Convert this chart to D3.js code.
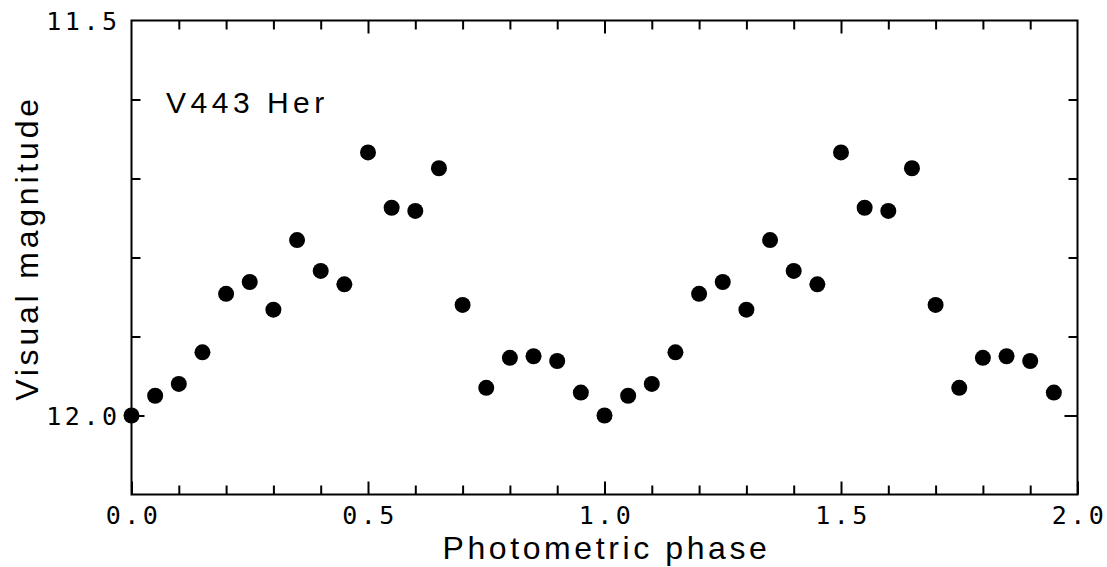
<!DOCTYPE html>
<html>
<head>
<meta charset="utf-8">
<script src="https://cdn.jsdelivr.net/npm/d3@7"></script>
<style>
  html, body { margin: 0; padding: 0; background: #fff; }
  svg { display: block; }
  .tick-label { font-family: "DejaVu Sans Mono", monospace; font-size: 25px; letter-spacing: 3.5px; fill: #000; }
  .title { font-family: "Liberation Sans", Arial, sans-serif; fill: #000; }
</style>
</head>
<body>
<svg id="chart" width="1107" height="567"></svg>
<script>
// Light curve of V443 Her folded on the photometric period, shown over two cycles
const phase = [
  0.00, 0.05, 0.10, 0.15, 0.20, 0.25, 0.30, 0.35, 0.40, 0.45,
  0.50, 0.55, 0.60, 0.65, 0.70, 0.75, 0.80, 0.85, 0.90, 0.95,
  1.00, 1.05, 1.10, 1.15, 1.20, 1.25, 1.30, 1.35, 1.40, 1.45,
  1.50, 1.55, 1.60, 1.65, 1.70, 1.75, 1.80, 1.85, 1.90, 1.95
];
const magnitude = [
  12.000, 11.975, 11.960, 11.920, 11.846, 11.831, 11.866, 11.778, 11.817, 11.834,
  11.667, 11.737, 11.741, 11.687, 11.860, 11.965, 11.927, 11.925, 11.931, 11.971,
  12.000, 11.975, 11.960, 11.920, 11.846, 11.831, 11.866, 11.778, 11.817, 11.834,
  11.667, 11.737, 11.741, 11.687, 11.860, 11.965, 11.927, 11.925, 11.931, 11.971
];
const xMajorTicks = [0.0, 0.5, 1.0, 1.5, 2.0];
const xMinorTicks = [0.1, 0.2, 0.3, 0.4, 0.6, 0.7, 0.8, 0.9, 1.1, 1.2, 1.3, 1.4, 1.6, 1.7, 1.8, 1.9];
const yMajorTicks = [11.5, 12.0];
const yMinorTicks = [11.6, 11.7, 11.8, 11.9];
const starName = "V443 Her";
const xTitle = "Photometric phase";
const yTitle = "Visual magnitude";

const svg = d3.select("#chart");
const plotLeft = 131.5, plotRight = 1077.5, plotTop = 20.5, plotBottom = 494.5;

const x = d3.scaleLinear().domain([0, 2]).range([plotLeft, plotRight]);
const y = d3.scaleLinear().domain([11.5, 12.1]).range([plotTop, plotBottom]);

const fmt = d3.format(".1f");
const minorLen = 9, majorLen = 13;

function styleAxis(g) {
  g.select(".domain").remove();
  g.selectAll(".tick line").attr("stroke", "#000").attr("stroke-width", 2);
}

// bottom axis: labelled majors plus minor ticks, all pointing into the frame
svg.append("g").attr("transform", `translate(0,${plotBottom})`)
  .call(d3.axisBottom(x).tickValues(xMinorTicks).tickSize(-minorLen).tickFormat(""))
  .call(styleAxis);
const bx = svg.append("g").attr("transform", `translate(0,${plotBottom})`)
  .call(d3.axisBottom(x).tickValues(xMajorTicks).tickSize(-majorLen).tickPadding(14).tickFormat(fmt))
  .call(styleAxis);
bx.selectAll(".tick text").attr("class", "tick-label").attr("font-size", null).attr("font-family", null)
  .attr("dy", null).attr("y", 29).attr("dx", 1.5);

// top axis: ticks only
svg.append("g").attr("transform", `translate(0,${plotTop})`)
  .call(d3.axisTop(x).tickValues(xMinorTicks).tickSize(-minorLen).tickFormat(""))
  .call(styleAxis);
svg.append("g").attr("transform", `translate(0,${plotTop})`)
  .call(d3.axisTop(x).tickValues(xMajorTicks.slice(1, -1)).tickSize(-majorLen).tickFormat(""))
  .call(styleAxis);

// left axis: 11.5 and 12.0 labelled
svg.append("g").attr("transform", `translate(${plotLeft},0)`)
  .call(d3.axisLeft(y).tickValues(yMinorTicks).tickSize(-minorLen).tickFormat(""))
  .call(styleAxis);
const ly = svg.append("g").attr("transform", `translate(${plotLeft},0)`)
  .call(d3.axisLeft(y).tickValues(yMajorTicks).tickSize(-majorLen).tickPadding(14).tickFormat(fmt))
  .call(styleAxis);
ly.selectAll(".tick line").filter(d => d === 11.5).remove();
ly.selectAll(".tick text").attr("class", "tick-label").attr("font-size", null).attr("font-family", null)
  .attr("x", -11).attr("dy", "0.36em");

// right axis: ticks only
svg.append("g").attr("transform", `translate(${plotRight},0)`)
  .call(d3.axisRight(y).tickValues(yMinorTicks).tickSize(-minorLen).tickFormat(""))
  .call(styleAxis);
svg.append("g").attr("transform", `translate(${plotRight},0)`)
  .call(d3.axisRight(y).tickValues([12.0]).tickSize(-majorLen).tickFormat(""))
  .call(styleAxis);

// frame
svg.append("rect")
  .attr("x", plotLeft).attr("y", plotTop)
  .attr("width", plotRight - plotLeft).attr("height", plotBottom - plotTop)
  .attr("fill", "none").attr("stroke", "#000").attr("stroke-width", 2);

// observations
svg.append("g").selectAll("circle")
  .data(phase.map((p, i) => ({ p, m: magnitude[i] })))
  .join("circle")
  .attr("cx", d => x(d.p))
  .attr("cy", d => y(d.m))
  .attr("r", 8)
  .attr("fill", "#000");

// labels
svg.append("text").attr("class", "title")
  .attr("x", 166).attr("y", 113)
  .attr("font-size", 30).attr("letter-spacing", 4.5)
  .text(starName);

svg.append("text").attr("class", "title")
  .attr("x", (plotLeft + plotRight) / 2 + 2).attr("y", 559)
  .attr("text-anchor", "middle")
  .attr("font-size", 32).attr("letter-spacing", 3.6)
  .text(xTitle);

svg.append("text").attr("class", "title")
  .attr("transform", `translate(38,${248}) rotate(-90)`)
  .attr("text-anchor", "middle")
  .attr("font-size", 32).attr("letter-spacing", 3.8)
  .text(yTitle);
</script>
</body>
</html>
